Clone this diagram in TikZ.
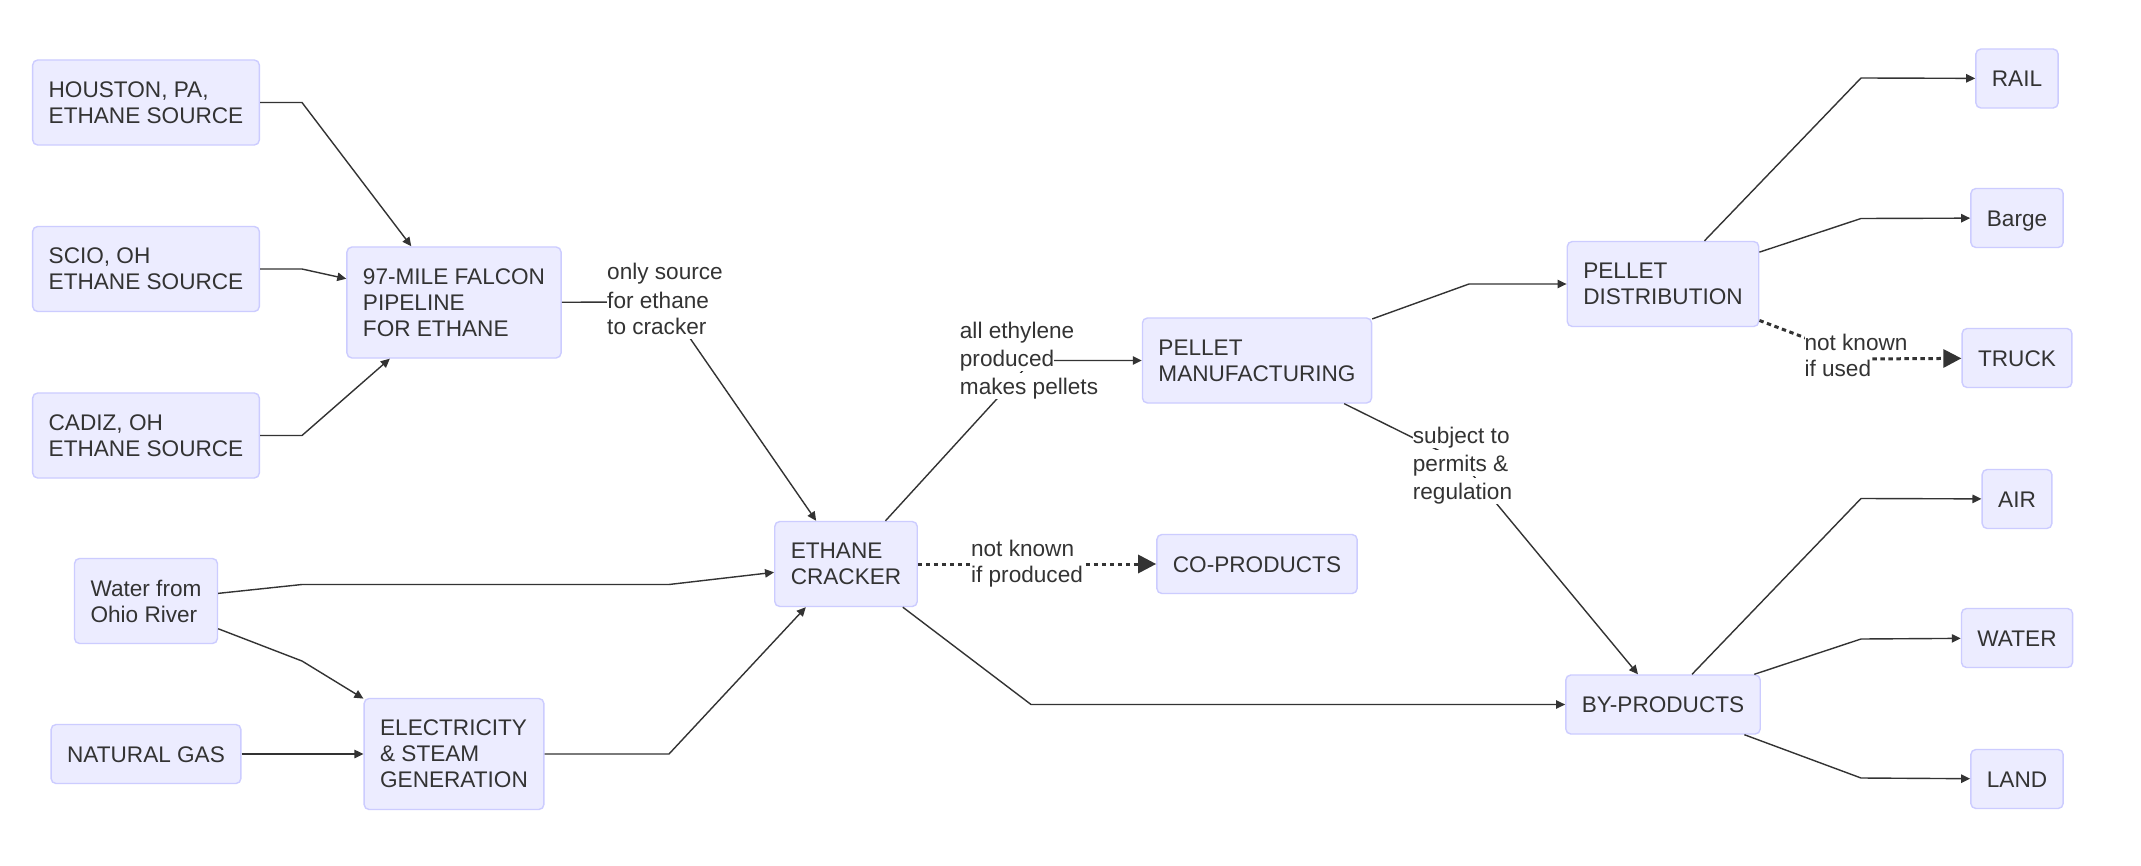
\documentclass[tikz,border=0pt]{standalone}
\usepackage{fontspec}
\setmainfont{Liberation Sans}
\usepackage{tikz}
\usetikzlibrary{arrows.meta}
\definecolor{boxfill}{HTML}{ECECFF}
\definecolor{boxline}{HTML}{CCCCFF}
\definecolor{ink}{HTML}{333333}
\newcommand{\lbl}[1]{{\setlength{\fboxsep}{0pt}\colorbox{white}{\rule[-2.2pt]{0pt}{13pt}#1}}}
\tikzset{
  proc/.style={draw=boxline,line width=0.7pt,fill=boxfill,rounded corners=2.5pt,
    align=left,inner xsep=8pt,inner ysep=0pt,text=ink,
    font=\fontsize{11.3}{13}\selectfont},
  proc1/.style={proc,minimum height=29.5pt,text height=9.1pt,text depth=1pt},
  proc2/.style={proc,minimum height=42.5pt},
  proc3/.style={proc,minimum height=55.5pt},
  flow/.style={-{Triangle[length=4.5pt,width=4.2pt]},line width=0.7pt,draw=ink},
  maybeflow/.style={-{Triangle[length=9pt,width=9pt]},line width=1.5pt,
    dash pattern=on 2.2pt off 1.8pt,draw=ink},
  lab/.style={align=left,inner sep=0pt,text=ink,
    font=\fontsize{11.3}{13}\selectfont}
}

\begin{document}
\begin{tikzpicture}[x=0.5pt,y=-0.5pt]
  \useasboundingbox[fill=white] (0,0) rectangle (2141,866);
  % sources
  \node[proc2] (houston) at (146,102.5) {HOUSTON, PA,\\ETHANE SOURCE};
  \node[proc2] (scio) at (146,269) {SCIO, OH\\ETHANE SOURCE};
  \node[proc2] (cadiz) at (146,435.5) {CADIZ, OH\\ETHANE SOURCE};
  \node[proc3] (pipeline) at (454,302.5) {97-MILE FALCON\\PIPELINE\\FOR ETHANE};
  \node[proc2] (water) at (146,601) {Water from\\Ohio River};
  \node[proc1] (natgas) at (146,754) {NATURAL GAS};
  \node[proc3] (power) at (454,754) {ELECTRICITY\\\& STEAM\\GENERATION};
  % plant
  \node[proc2] (cracker) at (846,564) {ETHANE\\CRACKER};
  \node[proc1] (coprod) at (1257,564) {CO-PRODUCTS};
  \node[proc2] (pelletmfg) at (1257,360.5) {PELLET\\MANUFACTURING};
  \node[proc2] (pelletdist) at (1663,284) {PELLET\\DISTRIBUTION};
  \node[proc1] (byprod) at (1663,704.5) {BY-PRODUCTS};
  % outlets
  \node[proc1] (rail) at (2017,78.5) {RAIL};
  \node[proc1] (barge) at (2017,218) {Barge};
  \node[proc1] (truck) at (2017,358) {TRUCK};
  \node[proc1] (air) at (2017,499) {AIR};
  \node[proc1] (waterout) at (2017,638) {WATER};
  \node[proc1] (land) at (2017,779) {LAND};

  \draw[flow] (houston) -- (302,102.5) -- (pipeline);
  \draw[flow] (scio) -- (302,269) -- (pipeline);
  \draw[flow] (cadiz) -- (302,435.5) -- (pipeline);
  \draw[flow] (pipeline) -- (665,302) -- (cracker);
  \draw[flow] (water) -- (302,584.5) -- (669,584.5) -- (cracker);
  \draw[flow] (water) -- (302,661) -- (power);
  \draw[flow] (natgas) -- (power);
  \draw[flow] (power) -- (669,754) -- (cracker);
  \draw[flow] (cracker) -- (1032,360.5) -- (pelletmfg);
  \draw[maybeflow] (cracker) -- (coprod);
  \draw[flow] (cracker) -- (1031,704.5) -- (byprod);
  \draw[flow] (pelletmfg) -- (1469,284) -- (pelletdist);
  \draw[flow] (pelletmfg) -- (1462,462) -- (byprod);
  \draw[flow] (pelletdist) -- (1861,78) -- (rail);
  \draw[flow] (pelletdist) -- (1861,218.5) -- (barge);
  \draw[maybeflow] (pelletdist) -- (1861,359) -- (truck);
  \draw[flow] (byprod) -- (1861,498.5) -- (air);
  \draw[flow] (byprod) -- (1861,639) -- (waterout);
  \draw[flow] (byprod) -- (1861,778) -- (land);

  % edge labels
  \node[lab] (lblpipe) at (665,298.5) {\lbl{only source}\\\lbl{for ethane}\\\lbl{to cracker}};
  \node[lab] (lblpellet) at (1029,358) {\lbl{all ethylene}\\\lbl{produced}\\\lbl{makes pellets}};
  \node[lab] (lblcoprod) at (1027,561) {\lbl{not known}\\\lbl{if produced}};
  \node[lab] (lblpermit) at (1462.5,463) {\lbl{subject to}\\\lbl{permits \&}\\\lbl{regulation}};
  \node[lab] (lbltruck) at (1856,355) {\lbl{not known}\\\lbl{if used}};
\end{tikzpicture}
\end{document}
